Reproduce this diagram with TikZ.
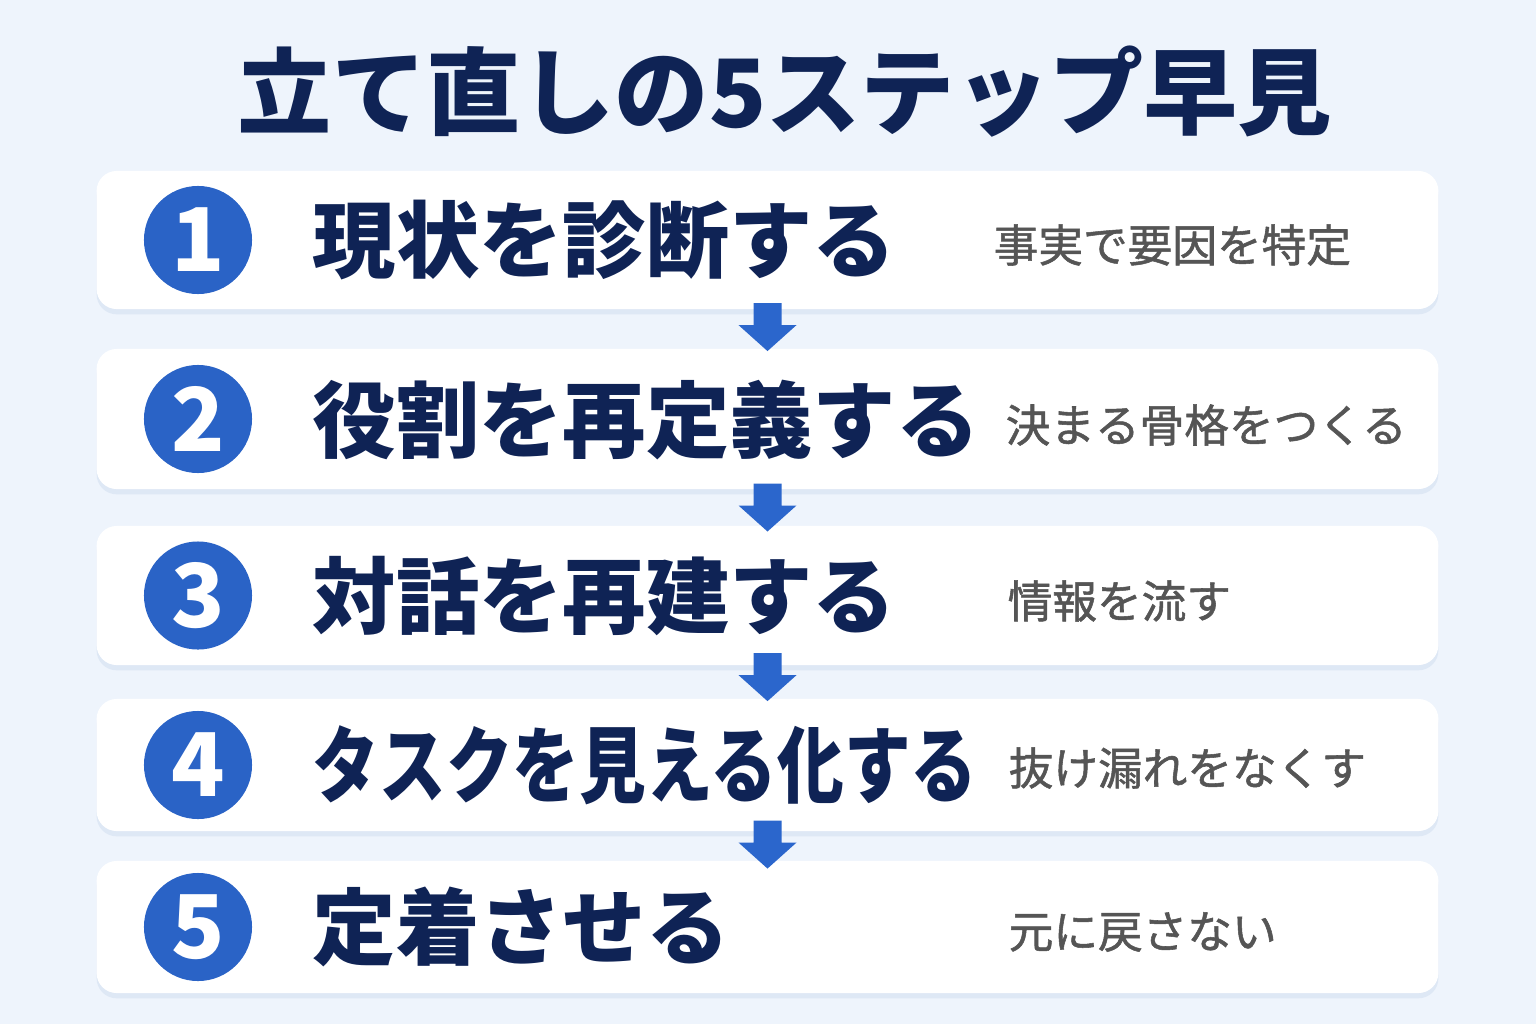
\documentclass[tikz,border=0pt]{standalone}
\usepackage{fontspec}
\usepackage{tikz}
\usetikzlibrary{positioning,shadows}
\newfontfamily\jp{Noto Sans CJK JP}
\newfontfamily\jpnote{Noto Sans CJK JP}[FakeBold=1.2]

\definecolor{pagebg}{HTML}{EEF4FC}
\definecolor{navy}{HTML}{0F2355}
\definecolor{badgeblue}{HTML}{2A63C6}
\definecolor{arrowblue}{HTML}{2B66CC}
\definecolor{notegray}{HTML}{555555}
\definecolor{shadowblue}{HTML}{A9BEDD}

\begin{document}
\begin{tikzpicture}[x=0.01cm, y=-0.01cm,
	card/.style={fill=white, rounded corners=0.2cm, minimum width=13.41cm,
		drop shadow={shadow xshift=0pt, shadow yshift=-1.5pt, opacity=0.22, fill=shadowblue}},
	badge/.style={circle, fill=badgeblue, minimum size=1.08cm, inner sep=0pt, text=white,
		font=\jp\bfseries\fontsize{25}{25}\selectfont},
	headline/.style={inner sep=0pt, text=navy, font=\jp\bfseries\fontsize{26.8}{30}\selectfont},
	stepname/.style={anchor=west, inner sep=0pt, text=navy, font=\jp\bfseries\fontsize{23.7}{26}\selectfont},
	stepnote/.style={anchor=west, inner sep=0pt, text=notegray, font=\jpnote\fontsize{12.7}{15}\selectfont},
	downarrow/.style={fill=arrowblue}]
		\fill[pagebg] (0,0) rectangle (1536,1024);
		\useasboundingbox (0,0) rectangle (1536,1024);

		\node[headline] (head) at (785, 92) {立て直しの5ステップ早見};

		% cards and numbers
		\foreach \i/\y/\h in {1/240/1.38, 2/419/1.40, 3/595.5/1.39, 4/765/1.32, 5/927/1.32} {
			\node[card, minimum height=\h cm] (card\i) at (767.5, \y) {};
			\node[badge] (num\i) at (198, \y) {\i};
		}

		\node[stepname] (name1) at (312, 240) {現状を診断する};
		\node[stepname] (name2) at (312, 420) {役割を再定義する};
		\node[stepname] (name3) at (312, 596) {対話を再建する};
		\node[stepname] (name4) at (312, 765) {\scalebox{0.8}[1]{タスクを見える化する}};
		\node[stepname] (name5) at (312, 927) {定着させる};

		\node[stepnote] (note1) at (993, 245) {事実で要因を特定};
		\node[stepnote] (note2) at (1005, 425) {決まる骨格をつくる};
		\node[stepnote] (note3) at (1007, 601) {情報を流す};
		\node[stepnote] (note4) at (1008, 768) {抜け漏れをなくす};
		\node[stepnote] (note5) at (1008, 932) {元に戻さない};

		% arrows between cards
		\foreach \a/\b/\p in {1/2/0.45, 2/3/0.5, 3/4/0.35, 4/5/0.45} {
			\path (card\a.south) -- (card\b.north) coordinate[pos=\p] (gap\a);
			\fill[downarrow] (gap\a) +(-14,-24) -- +(14,-24) -- +(14,-2) -- +(29,-2)
				-- +(0,24) -- +(-29,-2) -- +(-14,-2) -- cycle;
		}
\end{tikzpicture}
\end{document}
